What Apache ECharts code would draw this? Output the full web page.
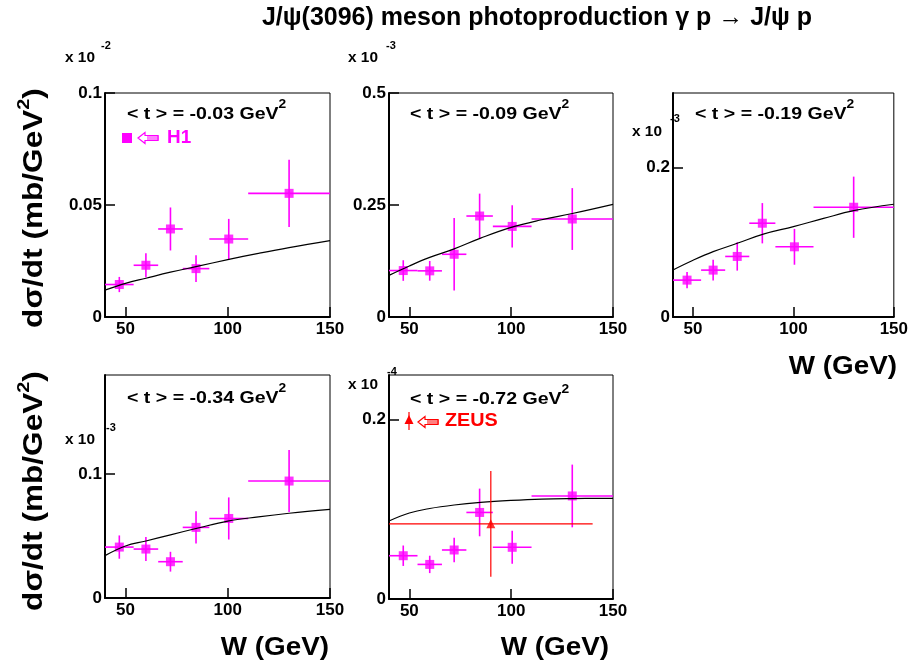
<!DOCTYPE html>
<html><head><meta charset="utf-8">
<script src="https://cdn.jsdelivr.net/npm/echarts@6/dist/echarts.min.js"></script>
<style>html,body{margin:0;padding:0;background:#fff}#c{width:911px;height:671px}</style>
</head><body><div id="c"></div>
<script>
// ---- data ----
const wCenters = [47, 60, 72, 84.5, 100.5, 130];
const wLow = [40, 54, 66, 78, 91, 110];
const wHigh = [54, 66, 78, 91, 110, 150];
const tValues = ['-0.03', '-0.09', '-0.19', '-0.34', '-0.72'];
const expLabels = ['-2', '-3', '-3', '-3', '-4'];
const yMax = [0.1, 0.5, 0.3, 0.18, 0.25];
const yTicks = [[0, 0.05, 0.1], [0, 0.25, 0.5], [0, 0.2], [0, 0.1], [0, 0.2]];
const xTicks = [50, 100, 150];

const h1_t003 = [0.0145, 0.0231, 0.0393, 0.0216, 0.0348, 0.0552];
const h1_t003_err = [0.0034, 0.0054, 0.0096, 0.006, 0.009, 0.015];
const h1_t009 = [0.1037, 0.103, 0.140, 0.2254, 0.2022, 0.2187];
const h1_t009_err = [0.023, 0.022, 0.081, 0.05, 0.047, 0.069];
const h1_t019 = [0.0494, 0.0628, 0.0811, 0.1256, 0.094, 0.147];
const h1_t019_err = [0.011, 0.014, 0.019, 0.027, 0.024, 0.041];
const h1_t034 = [0.0411, 0.0395, 0.0293, 0.057, 0.0642, 0.0944];
const h1_t034_err = [0.0094, 0.0097, 0.008, 0.013, 0.017, 0.025];
const h1_t072 = [0.0483, 0.0386, 0.0547, 0.0966, 0.0577, 0.115];
const h1_t072_err = [0.0114, 0.0097, 0.0137, 0.0266, 0.0184, 0.035];

const zeusW = [90];
const zeusLow = [40];
const zeusHigh = [140];
const zeus_t072 = [0.0839];
const zeus_t072_err = [0.059];

const fitW = [40, 50, 60, 72, 85, 100, 115, 130, 150];
const fit_t003 = [0.0120, 0.0150, 0.0173, 0.0200, 0.0226, 0.0256, 0.0284, 0.0310, 0.0341];
const fit_t009 = [0.093, 0.114, 0.133, 0.152, 0.176, 0.200, 0.217, 0.231, 0.2515];
const fit_t019 = [0.063, 0.076, 0.0875, 0.0987, 0.111, 0.121, 0.132, 0.1424, 0.151];
const fit_t034 = [0.0342, 0.0420, 0.0460, 0.0510, 0.0563, 0.0621, 0.0655, 0.0684, 0.0716];
const fit_t072 = [0.0871, 0.096, 0.101, 0.1049, 0.1078, 0.110, 0.1115, 0.1121, 0.1124];

const h1Sets = [h1_t003, h1_t009, h1_t019, h1_t034, h1_t072];
const h1Errs = [h1_t003_err, h1_t009_err, h1_t019_err, h1_t034_err, h1_t072_err];
const fitSets = [fit_t003, fit_t009, fit_t019, fit_t034, fit_t072];

// ---- layout ----
const FONT = '"Liberation Sans", Arial, Helvetica, sans-serif';
const MAG = '#ff00ff', RED = '#ff0000';
const boxes = [
  {left: 105, top: 93, width: 225, height: 224},
  {left: 389, top: 93, width: 224, height: 224},
  {left: 673, top: 93, width: 224, height: 224},
  {left: 105, top: 375, width: 225, height: 223},
  {left: 389, top: 375, width: 224, height: 224}
];

function errRender(color, lw) {
  return function (params, api) {
    const x = api.value(0), y = api.value(1);
    const xl = api.value(2), xh = api.value(3), yl = api.value(4), yh = api.value(5);
    const p0 = api.coord([xl, y]), p1 = api.coord([xh, y]);
    const q0 = api.coord([x, yl]), q1 = api.coord([x, yh]);
    return {type: 'group', children: [
      {type: 'line', shape: {x1: p0[0], y1: p0[1], x2: p1[0], y2: p1[1]}, style: {stroke: color, lineWidth: lw}},
      {type: 'line', shape: {x1: q0[0], y1: q0[1], x2: q1[0], y2: q1[1]}, style: {stroke: color, lineWidth: lw}}
    ]};
  };
}

const grid = [], xAxis = [], yAxis = [], series = [];
boxes.forEach((b, i) => {
  grid.push(Object.assign({show: true, borderColor: '#000', borderWidth: 1, backgroundColor: 'transparent'}, b));
  xAxis.push({
    type: 'value', gridIndex: i, min: 40, max: 150,
    axisLine: {show: true, onZero: false, lineStyle: {color: '#000', width: 2}},
    axisTick: {show: true, inside: true, length: 10, customValues: xTicks, lineStyle: {color: '#000', width: 1.5}},
    axisLabel: {show: true, customValues: xTicks, margin: 4, color: '#000', fontFamily: FONT, fontWeight: 'bold', fontSize: 17, formatter: v => String(v)},
    splitLine: {show: false}
  });
  yAxis.push({
    type: 'value', gridIndex: i, min: 0, max: yMax[i],
    axisLine: {show: true, onZero: false, lineStyle: {color: '#000', width: 2}},
    axisTick: {show: true, inside: true, length: 10, customValues: yTicks[i], lineStyle: {color: '#000', width: 1.5}},
    axisLabel: {show: true, customValues: yTicks[i], margin: 3, color: '#000', fontFamily: FONT, fontWeight: 'bold', fontSize: 17, formatter: v => String(v)},
    splitLine: {show: false}
  });
  const h1 = h1Sets[i], e = h1Errs[i];
  series.push({
    type: 'custom', xAxisIndex: i, yAxisIndex: i, renderItem: errRender(MAG, 1.6), clip: true,
    encode: {x: 0, y: 1},
    data: wCenters.map((w, k) => [w, h1[k], wLow[k], wHigh[k], h1[k] - e[k], h1[k] + e[k]]),
    z: 2
  });
  series.push({
    type: 'scatter', xAxisIndex: i, yAxisIndex: i, symbol: 'rect', symbolSize: 9,
    itemStyle: {color: MAG}, data: wCenters.map((w, k) => [w, h1[k]]), z: 3
  });
  series.push({
    type: 'line', xAxisIndex: i, yAxisIndex: i, smooth: 0.4, showSymbol: false, symbol: 'none',
    lineStyle: {color: '#000', width: 1.2}, data: fitW.map((w, k) => [w, fitSets[i][k]]), z: 4
  });
});
series.push({
  type: 'custom', xAxisIndex: 4, yAxisIndex: 4, renderItem: errRender(RED, 1.2), clip: true,
  encode: {x: 0, y: 1},
  data: zeusW.map((w, k) => [w, zeus_t072[k], zeusLow[k], zeusHigh[k], zeus_t072[k] - zeus_t072_err[k], zeus_t072[k] + zeus_t072_err[k]]),
  z: 5
});
series.push({
  type: 'scatter', xAxisIndex: 4, yAxisIndex: 4, symbol: 'triangle', symbolSize: 9,
  itemStyle: {color: RED}, data: zeusW.map((w, k) => [w, zeus_t072[k]]), z: 6
});

// ---- texts ----
const graphic = [];
function txt(x, y, text, size, opts) {
  opts = opts || {};
  graphic.push({
    type: 'text', x: x, y: y, scaleX: opts.scaleX || 1,
    style: Object.assign({text: text, font: 'bold ' + size + 'px ' + FONT, fill: '#000', textAlign: 'left', textVerticalAlign: 'middle'}, opts.style || {})
  });
}
txt(537, 18, 'J/\u03c8(3096) meson photoproduction \u03b3 p \u2192 J/\u03c8 p', 25, {style: {textAlign: 'center'}});

// panel headers with superscript
const headerPos = [[127, 111], [410, 111], [695, 111], [127, 395], [410, 396]];
headerPos.forEach((p, i) => {
  graphic.push({
    type: 'text', x: p[0], y: p[1], scaleX: 1.15,
    style: {
      text: '{a|< t > = ' + tValues[i] + ' GeV}{s|2}',
      textVerticalAlign: 'middle', textAlign: 'left',
      rich: {
        a: {font: 'bold 17px ' + FONT, fill: '#000', lineHeight: 24, verticalAlign: 'bottom'},
        s: {font: 'bold 12px ' + FONT, fill: '#000', verticalAlign: 'top'}
      }
    }
  });
});

// exponent labels
const expPos = [[65, 58, 101, 46], [348, 58, 386, 46], [632, 132, 670, 119], [65, 440, 106, 428], [348, 385, 387, 372]];
expPos.forEach((p, i) => {
  txt(p[0], p[1], 'x 10', 14, {scaleX: 1.1});
  txt(p[2], p[3], expLabels[i], 11);
});

// y titles
[[32, 208], [32, 491]].forEach(p => {
  graphic.push({
    type: 'text', x: p[0], y: p[1], rotation: Math.PI / 2, scaleX: 1.17,
    style: {
      text: '{a|d\u03c3/dt (mb/GeV}{s|2}{a|)}',
      textAlign: 'center', textVerticalAlign: 'middle',
      rich: {
        a: {font: 'bold 27px ' + FONT, fill: '#000', lineHeight: 32, verticalAlign: 'bottom'},
        s: {font: 'bold 17px ' + FONT, fill: '#000', verticalAlign: 'top'}
      }
    }
  });
});

// x titles
[[897, 367], [329, 648], [609, 648]].forEach(p => {
  txt(p[0], p[1], 'W (GeV)', 26, {scaleX: 1.07, style: {textAlign: 'right'}});
});

// legend H1
graphic.push({type: 'rect', shape: {x: 122, y: 133, width: 10, height: 10}, style: {fill: MAG}});
function arrow(x0, yc, color) {
  graphic.push({type: 'polygon', shape: {points: [[x0, yc], [x0 + 7, yc - 5.5], [x0 + 7, yc - 2.5], [x0 + 20, yc - 2.5], [x0 + 20, yc + 2.5], [x0 + 7, yc + 2.5], [x0 + 7, yc + 5.5]]}, style: {fill: '#fff', stroke: color, lineWidth: 1.2}});
  for (let k = 0; k < 6; k++) {
    graphic.push({type: 'line', shape: {x1: x0 + 10 + k * 2, y1: yc - 2.5, x2: x0 + 10 + k * 2, y2: yc + 2.5}, style: {stroke: color, lineWidth: 1}});
  }
}
arrow(138, 138, MAG);
txt(167, 138, 'H1', 18, {scaleX: 1.05, style: {fill: MAG}});
// legend ZEUS
graphic.push({type: 'line', shape: {x1: 409, y1: 412, x2: 409, y2: 430}, style: {stroke: RED, lineWidth: 1.2}});
graphic.push({type: 'polygon', shape: {points: [[409, 415], [413.5, 424], [404.5, 424]]}, style: {fill: RED}});
arrow(418, 422, RED);
txt(445, 421, 'ZEUS', 18, {scaleX: 1.1, style: {fill: RED}});

const chart = echarts.init(document.getElementById('c'), null, {renderer: 'canvas'});
chart.setOption({
  backgroundColor: '#fff', animation: false,
  grid: grid, xAxis: xAxis, yAxis: yAxis, series: series, graphic: graphic
});
</script>
</body></html>
